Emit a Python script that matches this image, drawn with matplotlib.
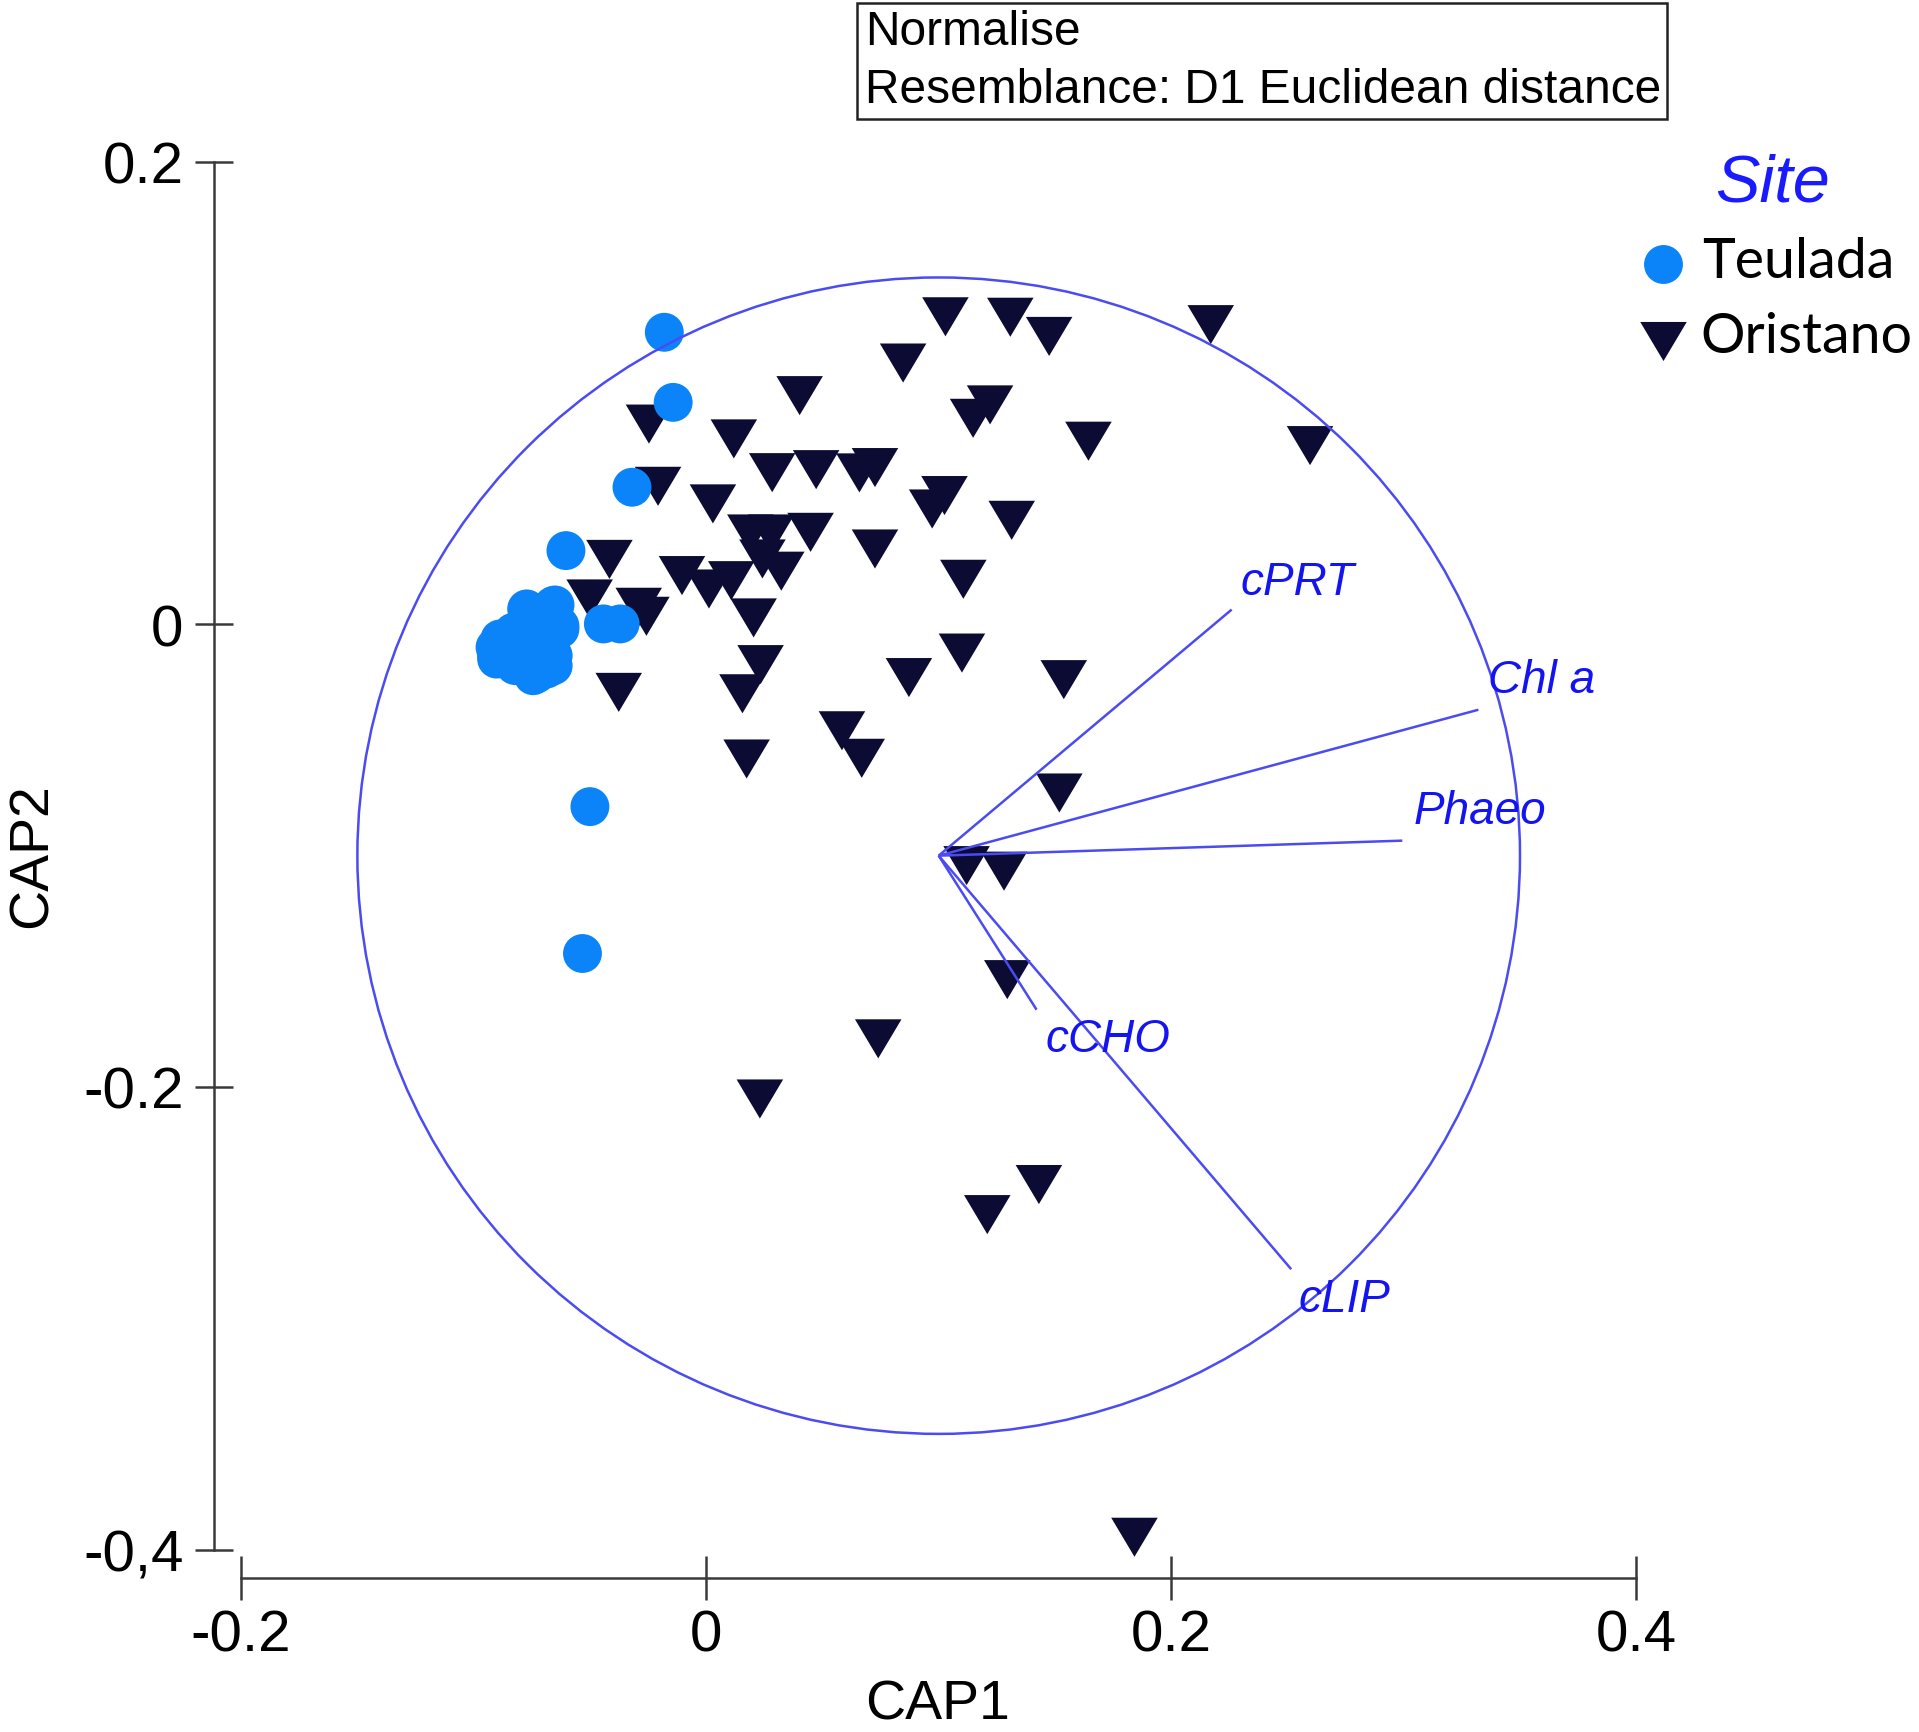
import matplotlib
matplotlib.use("Agg")
import matplotlib.pyplot as plt
from matplotlib.patches import Circle, Rectangle
from matplotlib.lines import Line2D
import numpy as np

plt.rcParams['font.family'] = ['Liberation Sans', 'DejaVu Sans']

# ---------------- data ----------------
teulada_x = [-0.0180, -0.0142, -0.0319, -0.0603, -0.0500, -0.0532,
             -0.0650, -0.0736, -0.0629, -0.0830, -0.0908, -0.0772,
             -0.0658, -0.0901, -0.0744, -0.0822, -0.0686, -0.0715,
             -0.0442, -0.0370,
             -0.0772, -0.0658, -0.0629, -0.0887, -0.0772, -0.0901,
             -0.0787, -0.0672, -0.0729, -0.0658]
teulada_y = [0.1263, 0.0960, 0.0593, 0.0319, -0.0788, -0.1423,
             0.0084, 0.0052, -0.0020, -0.0034, -0.0099, -0.0106,
             -0.0135, -0.0150, -0.0222, -0.0178, -0.0193, -0.0034,
             0.0002, 0.0002,
             0.0067, 0.0081, -0.0006, -0.0063, -0.0063, -0.0135,
             -0.0150, -0.0121, -0.0214, -0.0179]

oristano_x = [0.1029, 0.1308, 0.1475, 0.2170, 0.0847, 0.0402, 0.1221, 0.1148,
              0.1644, 0.2597, -0.0246, 0.0119, 0.0284, 0.0473, 0.0659, 0.0726,
              -0.0207, 0.0029, 0.1025, 0.0972, 0.1314, 0.0190, 0.0280, 0.0449,
              0.0726, -0.0416, -0.0104, 0.0012, 0.0108, 0.0242, 0.0323, 0.1106,
              -0.0501, -0.0290, -0.0257, 0.0204, -0.0376, 0.0234, 0.0156, 0.0872,
              0.1100, 0.1538, 0.0584, 0.0669, 0.0174, 0.1519, 0.1120, 0.1281,
              0.1295, 0.0740, 0.0231, 0.1431, 0.1209, 0.1842]
oristano_y = [0.1330, 0.1328, 0.1245, 0.1296, 0.1130, 0.0989, 0.0949, 0.0891,
              0.0792, 0.0773, 0.0866, 0.0802, 0.0656, 0.0669, 0.0655, 0.0678,
              0.0597, 0.0521, 0.0557, 0.0499, 0.0450, 0.0391, 0.0391, 0.0398,
              0.0326, 0.0281, 0.0211, 0.0153, 0.0189, 0.0283, 0.0230, 0.0195,
              0.0110, 0.0074, 0.0035, 0.0028, -0.0294, -0.0174, -0.0300, -0.0230,
              -0.0124, -0.0239, -0.0460, -0.0579, -0.0582, -0.0729, -0.1043, -0.1067,
              -0.1536, -0.1792, -0.2052, -0.2422, -0.2552, -0.3947]

# correlation circle and vectors
circle_center = (0.10, -0.10)
circle_radius = 0.25
vec_names = ['cPRT', 'Chl a', 'Phaeo', 'cCHO', 'cLIP']
vec_end_x = [0.2260, 0.3321, 0.2994, 0.1421, 0.2516]
vec_end_y = [0.0064, -0.0369, -0.0935, -0.1666, -0.2788]
vec_label_x = [0.2296, 0.3364, 0.3041, 0.1460, 0.2548]
vec_label_y = [0.0131, -0.0294, -0.0859, -0.1845, -0.2968]

x_ticks = [-0.2, 0.0, 0.2, 0.4]
x_ticklabels = ['-0.2', '0', '0.2', '0.4']
y_ticks = [0.2, 0.0, -0.2, -0.4]
y_ticklabels = ['0.2', '0', '-0.2', '-0,4']

# ---------------- styling ----------------
W, H, DPI = 1919, 1733, 100
C_TEU = '#0a84f8'
C_ORI = '#0b0b33'
C_LINE = '#4b4bf2'
C_TEXT = '#1414f0'
AX_COL = '#3a3a3a'

fig = plt.figure(figsize=(W / DPI, H / DPI), dpi=DPI)
ax = fig.add_axes([0, 0, 1, 1])
ax.set_xlim(-0.3037, 0.5216)
ax.set_ylim(-0.4789, 0.2704)
ax.patch.set_alpha(0)

tri = [(-1, 0.84), (1, 0.84), (0, -0.84), (-1, 0.84)]
tri_ms = 33.5
dot_ms = 28.0

ax.scatter(oristano_x, oristano_y, s=tri_ms ** 2, marker=tri, c=C_ORI,
           edgecolors='none', zorder=3)
ax.scatter(teulada_x, teulada_y, s=dot_ms ** 2, marker='o', c=C_TEU,
           edgecolors='none', zorder=3)

ax.add_patch(Circle(circle_center, circle_radius, fill=False, ec=C_LINE,
                    lw=1.8, zorder=4))
for name, ex, ey, lx, ly in zip(vec_names, vec_end_x, vec_end_y,
                                vec_label_x, vec_label_y):
    ax.plot([circle_center[0], ex], [circle_center[1], ey], color=C_LINE,
            lw=1.8, zorder=4, solid_capstyle='butt')
    ax.text(lx, ly, name, color=C_TEXT, fontsize=33, style='italic',
            ha='left', va='baseline', zorder=5)

# axes spines
for s in ['top', 'right']:
    ax.spines[s].set_visible(False)
ax.spines['left'].set_position(('data', -0.2116))
ax.spines['left'].set_bounds(-0.4, 0.2)
ax.spines['bottom'].set_position(('data', -0.4122))
ax.spines['bottom'].set_bounds(-0.2, 0.4)
for s in ['left', 'bottom']:
    ax.spines[s].set_color(AX_COL)
    ax.spines[s].set_linewidth(1.8)

ax.set_xticks(x_ticks)
ax.set_xticklabels(x_ticklabels)
ax.set_yticks(y_ticks)
ax.set_yticklabels(y_ticklabels)
ax.tick_params(axis='y', direction='inout', length=28, width=1.8,
               color=AX_COL, pad=8.0, labelsize=42)
ax.tick_params(axis='x', direction='inout', length=31, width=1.8,
               color=AX_COL, pad=7.0, labelsize=42)

fig.text(0.4885, 0.0080, 'CAP1', fontsize=40, ha='center', va='baseline')
fig.text(0.0242, 0.5063, 'CAP2', fontsize=40, ha='center', va='baseline',
         rotation=90, rotation_mode='anchor')

# info box
fig.add_artist(Rectangle((0.4466, 0.9308), 0.4221, 0.0669, fill=False,
                         ec='#222222', lw=1.8, transform=fig.transFigure))
fig.text(0.4509, 0.9739, 'Normalise', fontsize=34.5, ha='left', va='baseline')
fig.text(0.4509, 0.9407, 'Resemblance: D1 Euclidean distance', fontsize=34.5,
         ha='left', va='baseline')

# legend
fig.text(0.9237, 0.8836, 'Site', fontsize=48, style='italic', color='#1a1aff',
         ha='center', va='baseline')
fig.add_artist(Line2D([0.8668], [0.8471], marker='o', ms=dot_ms,
                      color=C_TEU, mec='none', ls='none',
                      transform=fig.transFigure))
fig.add_artist(Line2D([0.8668], [0.8025], marker=tri, ms=tri_ms,
                      color=C_ORI, mec='none', ls='none',
                      transform=fig.transFigure))
fig.text(0.8870, 0.8394, 'Teulada', fontsize=40, family=['Lato', 'DejaVu Sans'],
         ha='left', va='baseline')
fig.text(0.8862, 0.7965, 'Oristano', fontsize=40, family=['Lato', 'DejaVu Sans'],
         ha='left', va='baseline')

fig.savefig('out.png', dpi=DPI, facecolor='white')
